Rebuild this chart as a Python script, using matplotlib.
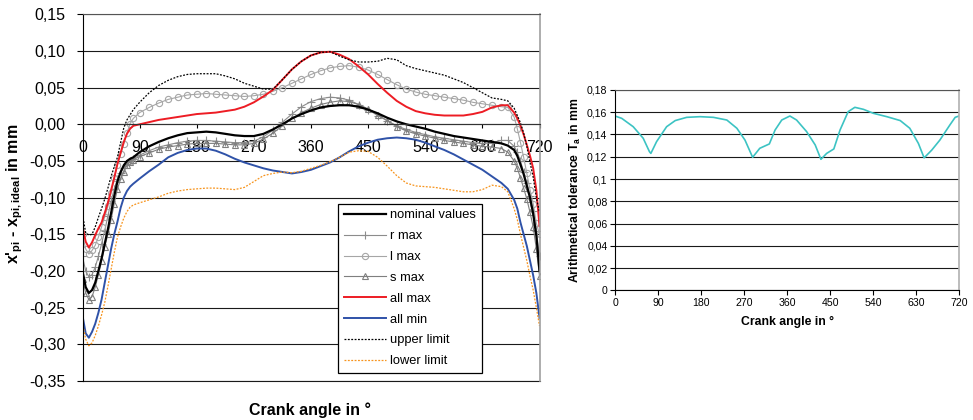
import matplotlib
matplotlib.use("Agg")
import matplotlib.pyplot as plt
from matplotlib.ticker import FixedLocator, FuncFormatter

plt.rcParams["font.family"] = ["Liberation Sans", "DejaVu Sans"]
plt.rcParams["mathtext.fontset"] = "custom"
plt.rcParams["mathtext.rm"] = "Liberation Sans"
plt.rcParams["mathtext.bf"] = "Liberation Sans:bold"

# crank angle grid (deg) used by every series of the left chart
angle = [0, 5, 10, 15, 20, 25, 30, 35, 40, 45, 50, 55, 60, 65, 70, 75, 80,
         90, 105, 120, 135, 150, 165, 180, 195, 210, 225, 240, 255, 270, 285,
         300, 315, 330, 345, 360, 375, 390, 405, 420, 435, 450, 465, 480, 495,
         510, 525, 540, 555, 570, 585, 600, 615, 630, 645, 660,
         670, 680, 685, 690, 695, 700, 705, 710, 715, 720]

nominal = [-0.200, -0.222, -0.230, -0.226, -0.216, -0.200, -0.183, -0.163, -0.143,
           -0.121, -0.098, -0.078, -0.065, -0.056, -0.050, -0.047, -0.045,
           -0.038, -0.030, -0.024, -0.019, -0.015, -0.012, -0.011, -0.010, -0.011,
           -0.013, -0.015, -0.016, -0.016, -0.013, -0.007, 0.000, 0.008, 0.014,
           0.019, 0.023, 0.025, 0.026, 0.026, 0.024, 0.020, 0.015, 0.009, 0.004,
           0.000, -0.003, -0.006, -0.010, -0.013, -0.016, -0.018, -0.020, -0.022,
           -0.024, -0.026, -0.029, -0.035, -0.043, -0.055, -0.068, -0.084, -0.100,
           -0.122, -0.152, -0.200]

r_max = [-0.180, -0.200, -0.208, -0.205, -0.195, -0.180, -0.163, -0.145, -0.125,
         -0.105, -0.088, -0.075, -0.066, -0.059, -0.054, -0.050, -0.047,
         -0.042, -0.036, -0.031, -0.028, -0.025, -0.023, -0.022, -0.022, -0.023,
         -0.024, -0.025, -0.025, -0.023, -0.017, -0.008, 0.003, 0.014, 0.024,
         0.031, 0.035, 0.037, 0.036, 0.033, 0.027, 0.020, 0.012, 0.005, -0.002,
         -0.007, -0.011, -0.014, -0.017, -0.019, -0.021, -0.023, -0.025, -0.026,
         -0.025, -0.022, -0.022, -0.030, -0.038, -0.050, -0.065, -0.080, -0.098,
         -0.118, -0.145, -0.180]

l_max = [-0.150, -0.170, -0.177, -0.172, -0.165, -0.154, -0.140, -0.126, -0.112,
         -0.094, -0.073, -0.055, -0.041, -0.027, -0.012, 0.001, 0.008,
         0.016, 0.023, 0.029, 0.034, 0.037, 0.040, 0.041, 0.042, 0.041,
         0.040, 0.039, 0.038, 0.039, 0.041, 0.045, 0.050, 0.056, 0.062,
         0.068, 0.073, 0.077, 0.079, 0.080, 0.078, 0.074, 0.068, 0.061, 0.054,
         0.048, 0.044, 0.041, 0.039, 0.037, 0.035, 0.033, 0.030, 0.028,
         0.026, 0.024, 0.023, 0.010, -0.006, -0.025, -0.045, -0.067, -0.089,
         -0.108, -0.135, -0.150]

s_max = [-0.211, -0.230, -0.239, -0.235, -0.222, -0.205, -0.187, -0.167, -0.150,
         -0.130, -0.108, -0.088, -0.075, -0.065, -0.056, -0.051, -0.048,
         -0.044, -0.039, -0.034, -0.031, -0.029, -0.027, -0.026, -0.026, -0.026,
         -0.027, -0.028, -0.028, -0.026, -0.020, -0.012, -0.002, 0.008, 0.016,
         0.022, 0.027, 0.030, 0.032, 0.031, 0.027, 0.021, 0.013, 0.005, -0.003,
         -0.009, -0.013, -0.016, -0.019, -0.022, -0.024, -0.026, -0.028, -0.030,
         -0.031, -0.033, -0.038, -0.050, -0.060, -0.073, -0.087, -0.102, -0.120,
         -0.140, -0.170, -0.207]

all_max = [-0.139, -0.160, -0.168, -0.161, -0.151, -0.142, -0.134, -0.121, -0.107,
           -0.090, -0.073, -0.054, -0.039, -0.024, -0.013, -0.006, -0.002,
           0.000, 0.003, 0.006, 0.008, 0.010, 0.012, 0.014, 0.015, 0.016,
           0.018, 0.020, 0.024, 0.030, 0.038, 0.047, 0.061, 0.075, 0.086,
           0.094, 0.098, 0.099, 0.095, 0.089, 0.079, 0.068, 0.055, 0.043, 0.032,
           0.024, 0.018, 0.015, 0.013, 0.012, 0.012, 0.012, 0.014, 0.017,
           0.023, 0.026, 0.026, 0.016, 0.008, -0.002, -0.014, -0.028, -0.043,
           -0.060, -0.090, -0.139]

all_min = [-0.261, -0.285, -0.291, -0.283, -0.272, -0.257, -0.239, -0.216, -0.193,
           -0.170, -0.150, -0.133, -0.114, -0.100, -0.091, -0.085, -0.081,
           -0.074, -0.064, -0.055, -0.045, -0.039, -0.035, -0.033, -0.033, -0.036,
           -0.041, -0.047, -0.052, -0.056, -0.060, -0.063, -0.065, -0.067, -0.065,
           -0.062, -0.057, -0.052, -0.045, -0.037, -0.030, -0.025, -0.021, -0.019,
           -0.018, -0.019, -0.021, -0.025, -0.030, -0.035, -0.041, -0.048, -0.055,
           -0.062, -0.071, -0.080, -0.088, -0.103, -0.115, -0.134, -0.150, -0.166,
           -0.186, -0.206, -0.230, -0.264]

upper_limit = [-0.123, -0.148, -0.151, -0.150, -0.140, -0.127, -0.115, -0.102, -0.087,
               -0.071, -0.058, -0.045, -0.025, -0.005, 0.006, 0.013, 0.020,
               0.030, 0.043, 0.053, 0.060, 0.065, 0.068, 0.069, 0.069, 0.069,
               0.066, 0.062, 0.056, 0.052, 0.048, 0.048, 0.061, 0.075, 0.086,
               0.094, 0.098, 0.099, 0.093, 0.088, 0.085, 0.085, 0.086, 0.090, 0.088,
               0.080, 0.076, 0.073, 0.070, 0.067, 0.062, 0.057, 0.050, 0.043,
               0.036, 0.034, 0.032, 0.022, 0.012, 0.002, -0.012, -0.030, -0.052,
               -0.072, -0.100, -0.120]

lower_limit = [-0.270, -0.293, -0.302, -0.298, -0.288, -0.275, -0.260, -0.243, -0.221,
               -0.198, -0.175, -0.154, -0.140, -0.128, -0.119, -0.113, -0.110,
               -0.107, -0.103, -0.099, -0.094, -0.091, -0.089, -0.088, -0.087, -0.087,
               -0.088, -0.089, -0.086, -0.078, -0.070, -0.067, -0.065, -0.066, -0.064,
               -0.060, -0.056, -0.051, -0.045, -0.038, -0.036, -0.037, -0.045, -0.057,
               -0.070, -0.080, -0.084, -0.085, -0.086, -0.088, -0.090, -0.092, -0.092,
               -0.089, -0.083, -0.085, -0.092, -0.115, -0.130, -0.150, -0.168, -0.186,
               -0.207, -0.226, -0.250, -0.275]

# right chart: arithmetical tolerance
ta_angle = [0, 14, 38, 59, 72, 75, 87, 108, 126, 150, 178, 206, 234, 255, 272,
            288, 303, 323, 335, 349, 366, 380, 401, 419, 431, 443, 458, 471,
            488, 502, 520, 541, 569, 597, 617, 635, 647, 663, 680, 701, 712, 720]
ta_value = [0.1566, 0.1545, 0.147, 0.1366, 0.1246, 0.123, 0.1336, 0.147, 0.1525,
            0.1554, 0.156, 0.1554, 0.153, 0.1456, 0.135, 0.1195, 0.1276, 0.1315,
            0.144, 0.153, 0.1566, 0.153, 0.1426, 0.1306, 0.1177, 0.123, 0.127,
            0.144, 0.1605, 0.1644, 0.1626, 0.159, 0.156, 0.1525, 0.1456, 0.132,
            0.119, 0.126, 0.135, 0.1486, 0.1554, 0.1566]

x_ticks = [0, 90, 180, 270, 360, 450, 540, 630, 720]
left_yticks = [0.15, 0.10, 0.05, 0.00, -0.05, -0.10, -0.15, -0.20, -0.25, -0.30, -0.35]
right_yticks = [0, 0.02, 0.04, 0.06, 0.08, 0.10, 0.12, 0.14, 0.16, 0.18]


def comma2(v, pos=None):
    return f"{v:.2f}".replace(".", ",").replace("-0,00", "0,00")


def comma_general(v, pos=None):
    s = f"{v:.2f}".rstrip("0").rstrip(".")
    return s.replace(".", ",") if s != "-0" else "0"


fig = plt.figure(figsize=(9.73, 4.2), dpi=100)
ax = fig.add_axes([0.0848, 0.0929, 0.4697, 0.873])
ax2 = fig.add_axes([0.6321, 0.3088, 0.3535, 0.477])

# ---- left chart ----
ax.plot(angle, r_max, color="#8c8c8c", lw=0.8, marker="+", ms=6, mew=0.8, label="r max")
ax.plot(angle, l_max, color="#a6a6a6", lw=0.8, marker="o", ms=4.5, mfc="none", mew=0.8, label="l max")
ax.plot(angle, s_max, color="#7f7f7f", lw=0.8, marker="^", ms=5, mfc="none", mew=0.8, label="s max")
ax.plot(angle, nominal, color="black", lw=1.6, label="nominal values")
ax.plot(angle, all_max, color="#ed1c24", lw=1.4, label="all max")
ax.plot(angle, all_min, color="#2f52a8", lw=1.4, label="all min")
ax.plot(angle, upper_limit, color="black", lw=0.9, ls=(0, (1.5, 1.2)), label="upper limit")
ax.plot(angle, lower_limit, color="#f7941d", lw=0.9, ls=(0, (1.5, 1.2)), label="lower limit")

ax.set_xlim(0, 720)
ax.set_ylim(-0.35, 0.15)
ax.yaxis.set_major_locator(FixedLocator(left_yticks))
ax.yaxis.set_major_formatter(FuncFormatter(comma2))
ax.xaxis.set_major_locator(FixedLocator(x_ticks))
ax.grid(axis="y", color="#1a1a1a", lw=0.8)
ax.axhline(-0.35, color="#1a1a1a", lw=0.8, clip_on=False)
ax.spines["bottom"].set_position(("data", 0))
ax.spines["bottom"].set_color("#333333")
ax.spines["top"].set_color("#555555")
ax.spines["right"].set_color("#a0a0a0")
ax.spines["right"].set_linewidth(1.2)
ax.tick_params(axis="y", direction="out", length=4, pad=8, labelsize=11.5)
ax.tick_params(axis="x", direction="out", length=3, pad=8, labelsize=11.5)
ax.set_axisbelow(True)

handles, labels = ax.get_legend_handles_labels()
order = ["nominal values", "r max", "l max", "s max", "all max", "all min", "upper limit", "lower limit"]
hmap = dict(zip(labels, handles))
leg = ax.legend([hmap[k] for k in order], order, loc="lower left",
                bbox_to_anchor=(0.545, 0.004), fontsize=9.3, handlelength=3.3,
                labelspacing=0.68, borderpad=0.45, handletextpad=0.3,
                fancybox=False, framealpha=1, edgecolor="black")
leg.get_frame().set_linewidth(0.9)

fig.text(310 / 973, 1 - 410 / 420, "Crank angle in °", ha="center", va="center",
         fontsize=11.5, fontweight="bold")
fig.text(15 / 973, 1 - 194 / 420,
         r"x'$_{\mathbf{pi}}$ - x$_{\mathbf{pi,ideal}}$ in mm",
         rotation=90, ha="center", va="center", fontsize=11.5, fontweight="bold")

# ---- right chart ----
ax2.plot(ta_angle, ta_value, color="#3cc3c3", lw=1.2)
ax2.set_xlim(0, 720)
ax2.set_ylim(0, 0.18)
ax2.xaxis.set_major_locator(FixedLocator(x_ticks))
ax2.yaxis.set_major_locator(FixedLocator(right_yticks))
ax2.yaxis.set_major_formatter(FuncFormatter(comma_general))
ax2.grid(axis="y", color="#1a1a1a", lw=0.8)
ax2.spines["top"].set_color("#555555")
ax2.spines["right"].set_color("#b0b0b0")
ax2.spines["right"].set_linewidth(1.2)
ax2.tick_params(axis="both", direction="out", length=3.5, pad=2, labelsize=7.6)
ax2.set_axisbelow(True)
ax2.set_xlabel("Crank angle in °", fontsize=8.8, fontweight="bold", labelpad=6)
ax2.set_ylabel(r"Arithmetical tolerance T$_\mathbf{a}$ in mm", fontsize=8.8,
               fontweight="bold", labelpad=3)

fig.savefig("out.png", dpi=100)
